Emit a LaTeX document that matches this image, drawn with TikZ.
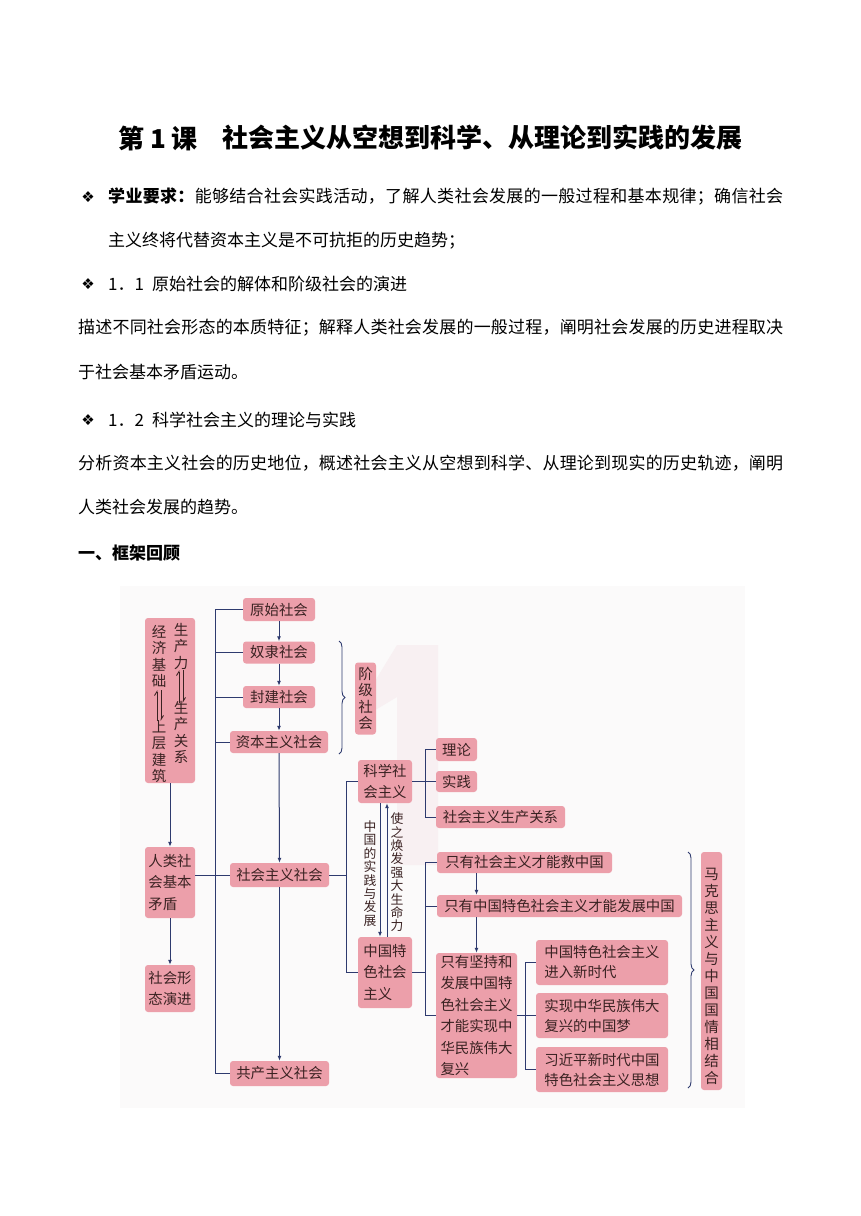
\documentclass[tikz,border=0pt]{standalone}
\usepackage{fontspec}
\setmainfont{Noto Sans CJK SC}
\newfontfamily\symfont{DejaVu Sans}
\usetikzlibrary{arrows.meta,decorations.pathreplacing}
\definecolor{boxpink}{HTML}{EC9FAA}
\definecolor{boxtext}{HTML}{3A2222}
\definecolor{linec}{HTML}{2E3A6E}
\definecolor{wm}{HTML}{F8F0F2}
\definecolor{photobg}{HTML}{FBFAFA}
\def\cjsp#1{#1\cjspx}
\def\cjspx#1{\ifx#1\relax\else\hfil#1\expandafter\cjspx\fi}
\tikzset{
  body/.style={anchor=west, inner sep=0pt, font=\fontsize{17}{17}\selectfont},
  bul/.style={inner sep=0pt, font=\symfont\fontsize{15}{15}\selectfont},
  box/.style={fill=boxpink, rounded corners=3pt, inner sep=0pt, align=left, text=boxtext,
              font=\fontsize{14.4}{21.5}\selectfont},
  sz/.style 2 args={minimum width=#1, minimum height=#2},
  vtext/.style={inner sep=0pt, align=center, text=boxtext, font=\fontsize{14.5}{16.5}\selectfont},
  lab/.style={inner sep=0pt, align=center, text=boxtext, font=\fontsize{12.8}{13.4}\selectfont},
  ln/.style={draw=linec, line width=1pt},
  arr/.style={ln, -{Latex[length=5pt,width=4pt]}},
  hp/.style={draw=boxtext, line width=0.9pt, -{Straight Barb[harpoon,length=4pt,width=5pt]}},
  brc/.style={draw=linec, line width=0.9pt, decorate, decoration={brace, amplitude=6pt}},
}
\begin{document}
\begin{tikzpicture}[x=1pt,y=-1pt]
\useasboundingbox (0,0) rectangle (860,1216);
\fill[white] (0,0) rectangle (860,1216);

% ---------- text part ----------
\node[body] (title1) at (118,138) {\fontsize{26}{26}\selectfont\bfseries 第 1 课};
\node[body] (title2) at (222,138) {\fontsize{26}{26}\selectfont\bfseries 社会主义从空想到科学、从理论到实践的发展};

\node[bul] (bu1) at (88,197) {❖};
\node[body] (l1) at (108,197) {\makebox[675pt][s]{\bfseries\cjsp 学业要求：\relax\hfil\mdseries\cjsp 能够结合社会实践活动，了解人类社会发展的一般过程和基本规律；确信社会\relax}};
\node[body] (l2) at (108,241) {主义终将代替资本主义是不可抗拒的历史趋势；};
\node[bul] (bu2) at (88,284) {❖};
\node[body] (l3) at (108,284) {1．1\hspace{8pt}原始社会的解体和阶级社会的演进};
\node[body] (l4) at (78,328) {\makebox[705pt][s]{\cjsp 描述不同社会形态的本质特征；解释人类社会发展的一般过程，阐明社会发展的历史进程取决\relax}};
\node[body] (l5) at (78,372) {于社会基本矛盾运动。};
\node[bul] (bu3) at (88,420) {❖};
\node[body] (l6) at (108,420) {1．2\hspace{8pt}科学社会主义的理论与实践};
\node[body] (l7) at (78,463) {\makebox[705pt][s]{\cjsp 分析资本主义社会的历史地位，概述社会主义从空想到科学、从理论到现实的历史轨迹，阐明\relax}};
\node[body] (l8) at (78,507) {人类社会发展的趋势。};
\node[body] (l9) at (78,553) {\bfseries 一、框架回顾};

% ---------- diagram background ----------
\fill[photobg] (120,586) rectangle (745,1108);
\fill[wm] (397,645) -- (438,645) -- (438,865) -- (397,865) -- (397,697) -- (372,712) -- (372,686) -- cycle;

% ---------- left column ----------
\node[box, sz={50pt}{165pt}] (jingji) at (170,700.5) {};
\node[vtext] (c1a) at (159,656.5) {经\\济\\基\\础};
\node[vtext] (c1b) at (159,751.5) {上\\层\\建\\筑};
\node[vtext] (c2a) at (181,646.5) {生\\产\\力};
\node[vtext] (c2b) at (181,732.5) {生\\产\\关\\系};
\coordinate (h1a) at (157,721); \coordinate (h1b) at (157,690);
\coordinate (h1c) at (161,690); \coordinate (h1d) at (161,721);
\coordinate (h2a) at (179,703); \coordinate (h2b) at (179,670);
\coordinate (h2c) at (183,670); \coordinate (h2d) at (183,703);
\draw[hp] (h1a) -- (h1b);
\draw[hp] (h1c) -- (h1d);
\draw[hp] (h2a) -- (h2b);
\draw[hp] (h2c) -- (h2d);

\node[box, sz={50pt}{71pt}] (renlei) at (170,882.5) {人类社\\会基本\\矛盾};
\node[box, sz={50pt}{47pt}] (xingtai) at (170,988.5) {社会形\\态演进};

% ---------- society chain ----------
\node[box, sz={72pt}{23pt}] (yuanshi) at (279,609.5) {原始社会};
\node[box, sz={72pt}{22pt}] (nuli) at (279,652.5) {奴隶社会};
\node[box, sz={72pt}{22pt}] (fengjian) at (279,697) {封建社会};
\node[box, sz={98pt}{22pt}] (ziben) at (279,742) {资本主义社会};
\node[box, sz={99pt}{24pt}] (shzy) at (279.5,875) {社会主义社会};
\node[box, sz={99pt}{25pt}] (gongchan) at (279.5,1073.5) {共产主义社会};
\node[box, sz={21pt}{72pt}] (jieji) at (365.5,698.5) {};
\node[vtext] (jiejit) at (365.5,698.5) {阶\\级\\社\\会};

% ---------- middle ----------
\node[box, sz={54pt}{43pt}] (kexue) at (385,781.5) {科学社\\会主义};
\node[box, sz={54pt}{71pt}] (tese) at (385,972.5) {中国特\\色社会\\主义};
\node[lab] (lab1) at (370,873.5) {中\\国\\的\\实\\践\\与\\发\\展};
\node[lab] (lab2) at (397,872.5) {使\\之\\焕\\发\\强\\大\\生\\命\\力};

\node[box, sz={41pt}{23pt}] (lilun) at (456.5,749.5) {理论};
\node[box, sz={41pt}{21pt}] (shijian) at (456.5,781.5) {实践};
\node[box, sz={129pt}{22pt}] (shengchan) at (500.5,817) {社会主义生产关系};

\node[box, sz={175pt}{21pt}] (jiu) at (524.5,862.5) {只有社会主义才能救中国};
\node[box, sz={245pt}{22pt}] (fazhan) at (559.5,906) {只有中国特色社会主义才能发展中国};
\node[box, sz={81pt}{125pt}] (jianchi) at (476.5,1015.5) {只有坚持和\\发展中国特\\色社会主义\\才能实现中\\华民族伟大\\复兴};
\node[box, sz={132pt}{45pt}, font=\fontsize{14.4}{20}\selectfont] (xinshidai) at (602,962.5) {中国特色社会主义\\进入新时代};
\node[box, sz={132pt}{45pt}, font=\fontsize{14.4}{20}\selectfont] (meng) at (602,1015.5) {实现中华民族伟大\\复兴的中国梦};
\node[box, sz={132pt}{45pt}, font=\fontsize{14.4}{20}\selectfont] (sixiang) at (602,1069.5) {习近平新时代中国\\特色社会主义思想};

\node[box, sz={21pt}{238pt}] (makesi) at (711.5,971) {};
\node[vtext, font=\fontsize{14.5}{17}\selectfont] (makesit) at (711.5,976) {马\\克\\思\\主\\义\\与\\中\\国\\国\\情\\相\\结\\合};

% ---------- connectors ----------
\coordinate (busT) at (215,609.5);
\coordinate (busB) at (215,1073.5);
\draw[ln] (yuanshi.west) -- (busT) -- (busB) -- (gongchan.west);
\draw[ln] (nuli.west) -- (nuli.west -| busT);
\draw[ln] (fengjian.west) -- (fengjian.west -| busT);
\draw[ln] (ziben.west) -- (ziben.west -| busT);
\draw[ln] (renlei.east |- shzy.west) -- (shzy.west);

\draw[arr] (jingji.south) -- (renlei.north);
\draw[arr] (renlei.south) -- (xingtai.north);

\draw[arr] (yuanshi.south) -- (nuli.north);
\draw[arr] (nuli.south) -- (fengjian.north);
\draw[arr] (fengjian.south) -- (ziben.north);
\draw[arr] (ziben.south) -- (shzy.north);
\draw[arr] (shzy.south) -- (gongchan.north);

\coordinate (b2T) at (346,781.5);
\coordinate (b2B) at (346,972.5);
\draw[ln] (kexue.west) -- (b2T) -- (b2B) -- (tese.west);
\draw[ln] (shzy.east) -- (shzy.east -| b2T);

\coordinate (b3T) at (425,749.5);
\coordinate (b3B) at (425,817);
\draw[ln] (lilun.west) -- (b3T) -- (b3B) -- (shengchan.west);
\draw[ln] (kexue.east) -- (shijian.west);

\draw[arr] ([xshift=-5pt]kexue.south) -- ([xshift=-5pt]tese.north);
\draw[arr] ([xshift=2pt]tese.north) -- ([xshift=2pt]kexue.south);

\coordinate (b4T) at (425,862.5);
\coordinate (b4B) at (425,1015.5);
\draw[ln] (jiu.west) -- (b4T) -- (b4B) -- (jianchi.west);
\draw[ln] (fazhan.west) -- (fazhan.west -| b4T);
\draw[ln] (tese.east) -- (tese.east -| b4T);
\draw[arr] (jiu.south -| jianchi.north) -- (fazhan.north -| jianchi.north);
\draw[arr] (fazhan.south -| jianchi.north) -- (jianchi.north);

\coordinate (b5T) at (525,962.5);
\coordinate (b5B) at (525,1069.5);
\draw[ln] (xinshidai.west) -- (b5T) -- (b5B) -- (sixiang.west);
\draw[ln] (jianchi.east) -- (meng.west);

% braces
\coordinate (br1T) at (339,641);
\coordinate (br1B) at (339,754);
\draw[brc] (br1T) -- (br1B);
\coordinate (br2T) at (688,852);
\coordinate (br2B) at (688,1088);
\draw[brc] (br2T) -- (br2B);
\end{tikzpicture}
\end{document}
